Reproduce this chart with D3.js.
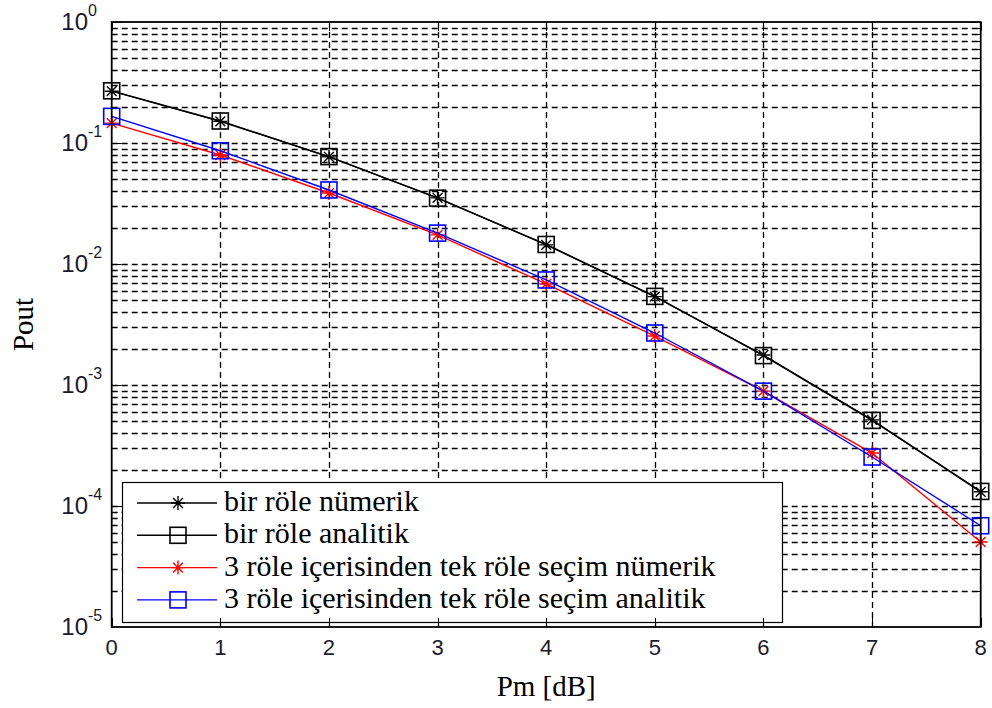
<!DOCTYPE html>
<html>
<head>
<meta charset="utf-8">
<script src="https://cdn.jsdelivr.net/npm/d3@7"></script>
<style>
    body { margin: 0; background: #fff; }
    svg { display: block; }
    .grid line { stroke: #000; stroke-width: 1.3; stroke-dasharray: 6,4; }
    .tick-lbl { font-family: "Liberation Sans", Arial, sans-serif; fill: #1a1a2e; }
    .serif { font-family: "Liberation Serif", "Times New Roman", serif; fill: #000; }
</style>
</head>
<body>
<div id="chart"></div>
<script>
    // data
    var pm = [0, 1, 2, 3, 4, 5, 6, 7, 8];
    var birNumerik  = [0.268, 0.151, 0.0768, 0.0352, 0.0144, 0.00538, 0.00177, 0.000515, 0.000131];
    var birAnalitik = [0.270, 0.152, 0.0772, 0.0350, 0.0145, 0.00540, 0.00175, 0.000510, 0.000132];
    var ucNumerik   = [0.146, 0.0796, 0.0386, 0.0174, 0.00684, 0.00254, 0.00089, 0.000274, 0.0000504];
    var ucAnalitik  = [0.166, 0.0863, 0.0409, 0.0180, 0.00738, 0.00269, 0.00089, 0.000254, 0.0000687];
    var seriesNames = ["bir röle nümerik", "bir röle analitik",
        "3 röle içerisinden tek röle seçim nümerik", "3 röle içerisinden tek röle seçim analitik"];
    var xTicks = [0, 1, 2, 3, 4, 5, 6, 7, 8];
    var yExponents = [0, -1, -2, -3, -4, -5];

    var width = 992, height = 708;
    var axL = 111.7, axR = 980.7, axT = 22, axB = 627;

    var series = [
        {name: seriesNames[0], values: birNumerik, color: "#000", marker: "star"},
        {name: seriesNames[1], values: birAnalitik, color: "#000", marker: "square"},
        {name: seriesNames[2], values: ucNumerik, color: "#ff0000", marker: "star"},
        {name: seriesNames[3], values: ucAnalitik, color: "#0000ff", marker: "square"}
    ];

    var svg = d3.select("#chart").append("svg")
        .attr("width", width)
        .attr("height", height);

    svg.append("rect").attr("width", width).attr("height", height).attr("fill", "#fff");

    var x = d3.scaleLinear().domain([0, 8]).range([axL, axR]);
    var y = d3.scaleLog().domain([1e-5, 1]).range([axB, axT]);

    /* ------- GRID -------*/
    var minor = [];
    yExponents.slice(0, -1).forEach(function(e) {
        for (var m = 1; m < 10; m++) minor.push(m * Math.pow(10, e - 1));
    });
    minor = minor.filter(function(v) { return v > 1e-5 * 1.0001; });

    var grid = svg.append("g").attr("class", "grid");
    grid.selectAll("line.h").data(minor).enter().append("line")
        .attr("class", "h")
        .attr("x1", axL).attr("x2", axR)
        .attr("y1", function(d) { return Math.round(y(d)) + 0.5; })
        .attr("y2", function(d) { return Math.round(y(d)) + 0.5; });
    grid.selectAll("line.v").data(xTicks.slice(1, -1)).enter().append("line")
        .attr("class", "v")
        .attr("y1", axT).attr("y2", axB)
        .attr("x1", function(d) { return Math.round(x(d)) + 0.5; })
        .attr("x2", function(d) { return Math.round(x(d)) + 0.5; });

    /* ------- TICKS -------*/
    var ticks = svg.append("g").attr("stroke", "#000").attr("stroke-width", 1);
    var allY = minor.concat([1]);
    allY.forEach(function(v) {
        var isMajor = Math.abs(Math.log10(v) - Math.round(Math.log10(v))) < 1e-6;
        var len = isMajor ? 10 : 5;
        var yy = Math.round(y(v)) + 0.5;
        ticks.append("line").attr("x1", axL).attr("x2", axL + len).attr("y1", yy).attr("y2", yy);
        ticks.append("line").attr("x1", axR).attr("x2", axR - len).attr("y1", yy).attr("y2", yy);
    });
    xTicks.forEach(function(v) {
        var xx = Math.round(x(v)) + 0.5;
        ticks.append("line").attr("x1", xx).attr("x2", xx).attr("y1", axT).attr("y2", axT + 9);
    });

    /* ------- LINES -------*/
    var line = d3.line()
        .x(function(d, i) { return x(pm[i]); })
        .y(function(d) { return y(d); });

    function starPath(s) {
        var d = s * 0.7;
        return "M" + (-s) + ",0L" + s + ",0M0," + (-s) + "L0," + s +
            "M" + (-d) + "," + (-d) + "L" + d + "," + d +
            "M" + (-d) + "," + d + "L" + d + "," + (-d);
    }
    function drawMarker(g, type, color, cx, cy) {
        if (type === "star") {
            g.append("path").attr("d", starPath(7))
                .attr("transform", "translate(" + cx + "," + cy + ")")
                .attr("stroke", color).attr("stroke-width", 1.4).attr("fill", "none");
        } else {
            g.append("rect").attr("x", cx - 8).attr("y", cy - 8)
                .attr("width", 16).attr("height", 16)
                .attr("stroke", color).attr("stroke-width", 1.6).attr("fill", "none");
        }
    }

    var plot = svg.append("g");
    series.forEach(function(s) {
        plot.append("path").datum(s.values)
            .attr("d", line)
            .attr("fill", "none")
            .attr("stroke", s.color)
            .attr("stroke-width", 1.4);
        var mg = plot.append("g");
        s.values.forEach(function(v, i) {
            drawMarker(mg, s.marker, s.color, x(pm[i]), y(v));
        });
    });

    /* ------- LEGEND -------*/
    var lx0 = 122, ly0 = 482, lx1 = 782, ly1 = 622;
    var legend = svg.append("g");
    legend.append("rect")
        .attr("x", lx0 + 0.5).attr("y", ly0 + 0.5)
        .attr("width", lx1 - lx0).attr("height", ly1 - ly0)
        .attr("fill", "#fff").attr("stroke", "#000").attr("stroke-width", 1.2);
    series.forEach(function(s, i) {
        var yy = 503 + i * 32.3;
        legend.append("line").attr("x1", 137).attr("x2", 217)
            .attr("y1", yy).attr("y2", yy)
            .attr("stroke", s.color).attr("stroke-width", 1.4);
        drawMarker(legend, s.marker, s.color, 178, yy);
        legend.append("text").attr("class", "serif")
            .attr("x", 224).attr("y", yy + 8)
            .style("font-size", "30px")
            .text(s.name);
    });

    // bottom ticks sit over the legend box
    xTicks.forEach(function(v) {
        var xx = Math.round(x(v)) + 0.5;
        svg.append("line").attr("x1", xx).attr("x2", xx).attr("y1", axB).attr("y2", axB - 9)
            .attr("stroke", "#000");
    });

    /* ------- AXES BOX -------*/
    svg.append("rect")
        .attr("x", axL).attr("y", axT)
        .attr("width", axR - axL).attr("height", axB - axT)
        .attr("fill", "none").attr("stroke", "#000").attr("stroke-width", 1.8);

    /* ------- TICK LABELS -------*/
    xTicks.forEach(function(v) {
        svg.append("text").attr("class", "tick-lbl")
            .attr("x", x(v)).attr("y", 655)
            .attr("text-anchor", "middle")
            .style("font-size", "22px")
            .text(v);
    });
    yExponents.forEach(function(e) {
        var yy = y(Math.pow(10, e));
        svg.append("text").attr("class", "tick-lbl")
            .attr("x", 88).attr("y", yy + 8)
            .attr("text-anchor", "end")
            .style("font-size", "24px")
            .text("10");
        svg.append("text").attr("class", "tick-lbl")
            .attr("x", 88).attr("y", yy - 6)
            .style("font-size", "16px")
            .text(e);
    });

    /* ------- AXIS LABELS -------*/
    svg.append("text").attr("class", "serif")
        .attr("x", (axL + axR) / 2).attr("y", 696)
        .attr("text-anchor", "middle")
        .style("font-size", "29px")
        .text("Pm [dB]");
    svg.append("text").attr("class", "serif")
        .attr("transform", "translate(33," + ((axT + axB) / 2) + ") rotate(-90)")
        .attr("text-anchor", "middle")
        .style("font-size", "29px")
        .text("Pout");
</script>
</body>
</html>
